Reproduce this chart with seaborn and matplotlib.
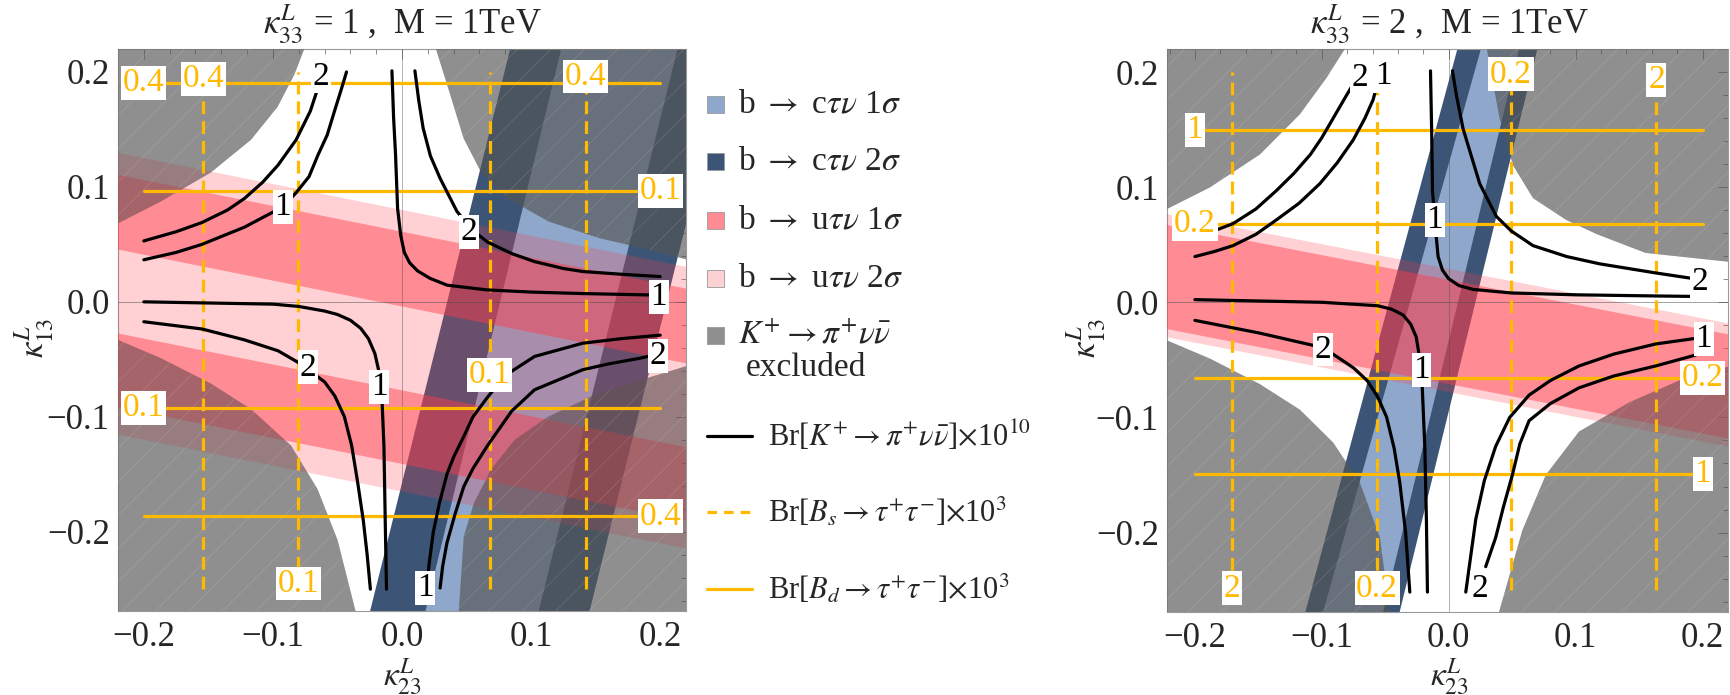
import matplotlib
matplotlib.use('Agg')
import matplotlib.pyplot as plt
import seaborn as sns
from matplotlib.patches import Polygon, Rectangle
from matplotlib.lines import Line2D
from matplotlib.ticker import MultipleLocator, FuncFormatter

# ---------------- values ----------------
x_lim = (-0.22, 0.22)
y_lim = (-0.269, 0.22)
grid_x = (-0.2, 0.2)      # contour domain (lines stop here)
grid_y = (-0.25, 0.2)

# panel 1 : kappa33 = 1
p1_k_ul2 = [(-0.200, 0.053), (-0.175, 0.061), (-0.155, 0.069), (-0.135, 0.080), (-0.122, 0.090),
            (-0.108, 0.104), (-0.096, 0.119), (-0.082, 0.141), (-0.071, 0.166), (-0.064, 0.190)]
p1_k_ul1 = [(-0.200, 0.0366), (-0.175, 0.043), (-0.155, 0.050), (-0.122, 0.065), (-0.0925, 0.0825),
            (-0.082, 0.095), (-0.072, 0.109), (-0.065, 0.128), (-0.058, 0.145), (-0.052, 0.167),
            (-0.047, 0.185), (-0.043, 0.200)]
p1_k_ll1 = [(-0.200, 0.000), (-0.150, -0.001), (-0.100, -0.002), (-0.080, -0.004), (-0.060, -0.008),
            (-0.050, -0.011), (-0.040, -0.016), (-0.032, -0.023), (-0.026, -0.032), (-0.021, -0.045),
            (-0.018, -0.060), (-0.0155, -0.085), (-0.014, -0.125), (-0.013, -0.190), (-0.012, -0.250)]
p1_k_ll2 = [(-0.200, -0.0173), (-0.155, -0.0236), (-0.122, -0.0331), (-0.096, -0.0426), (-0.080, -0.053),
            (-0.068, -0.063), (-0.060, -0.0696), (-0.052, -0.082), (-0.0447, -0.0997), (-0.039, -0.125),
            (-0.0344, -0.1567), (-0.030, -0.190), (-0.027, -0.220), (-0.0245, -0.250)]
p1_k_ur1 = [(-0.0078, 0.201), (-0.0065, 0.160), (-0.005, 0.128), (-0.0034, 0.081), (-0.001, 0.058),
            (0.0018, 0.043), (0.0059, 0.034), (0.012, 0.027), (0.0216, 0.0205), (0.035, 0.0145),
            (0.0658, 0.0104), (0.100, 0.0085), (0.140, 0.0072), (0.200, 0.0058)]
p1_k_ur2 = [(0.010, 0.201), (0.013, 0.175), (0.0164, 0.151), (0.022, 0.127), (0.0295, 0.1075),
            (0.0426, 0.0786), (0.055, 0.062), (0.0663, 0.052), (0.085, 0.042), (0.1027, 0.035),
            (0.125, 0.029), (0.140, 0.0264), (0.170, 0.024), (0.200, 0.022)]
p1_k_lr1 = [(0.200, -0.029), (0.170, -0.032), (0.140, -0.036), (0.1027, -0.0475), (0.080, -0.064),
            (0.0663, -0.0829), (0.055, -0.100), (0.0479, -0.117), (0.040, -0.135), (0.0348, -0.150),
            (0.029, -0.175), (0.0243, -0.200), (0.021, -0.228), (0.019, -0.250)]
p1_k_lr2 = [(0.200, -0.045), (0.1846, -0.049), (0.160, -0.054), (0.1399, -0.0591), (0.1027, -0.0765),
            (0.085, -0.095), (0.0663, -0.125), (0.055, -0.145), (0.0479, -0.1606), (0.041, -0.185),
            (0.0348, -0.2099), (0.0315, -0.230), (0.0295, -0.249)]
p1_k_labels = [('2', -0.063, 0.196), ('1', -0.0925, 0.0825), ('2', -0.073, -0.057), ('1', -0.0176, -0.0743),
               ('2', 0.052, 0.061), ('1', 0.199, 0.004), ('2', 0.198, -0.047), ('1', 0.018, -0.249)]

p1_gray_ul = [(-0.22, 0.0683), (-0.1868, 0.0873), (-0.148, 0.1126), (-0.117, 0.141), (-0.0964, 0.1696),
              (-0.0833, 0.198), (-0.0757, 0.22)]
p1_gray_ll = [(-0.22, -0.0331), (-0.1868, -0.049), (-0.148, -0.0711), (-0.117, -0.0933), (-0.086, -0.125),
              (-0.0654, -0.163), (-0.0499, -0.2073), (-0.036, -0.269)]
p1_gray_ur = [(0.0263, 0.22), (0.0374, 0.18), (0.0477, 0.1423), (0.061, 0.1133), (0.0817, 0.0901),
              (0.1136, 0.0699), (0.153, 0.0554), (0.1924, 0.0452), (0.22, 0.037)]
p1_gray_lr = [(0.22, -0.056), (0.153, -0.079), (0.1136, -0.0997), (0.0873, -0.120), (0.0689, -0.146),
              (0.0558, -0.175), (0.0479, -0.204), (0.044, -0.269)]

# pink bands: (y at left edge, y at right edge) for top and bottom
p1_u2s_top, p1_u2s_bot = (0.1295, 0.0305), (-0.1155, -0.2145)
p1_u1s_bands = [((0.1105, 0.0115), (0.0455, -0.0535)), ((-0.0275, -0.1265), (-0.0915, -0.1905))]
# blue bands: (x at bottom edge, x at top edge) for left and right side
p1_c2s_left, p1_c2s_right = (-0.0247, 0.0838), (0.1453, 0.2538)
p1_c1s_left, p1_c1s_right = (0.0182, 0.1233), (0.1059, 0.2134)

p1_bd_y = [0.1907, 0.0965, -0.0925, -0.1867]
p1_bd_txt = ['0.4', '0.1', '0.1', '0.4']
p1_bd_lab_x = [-0.2, 0.2, -0.2, 0.2]
p1_bs_x = [-0.154, -0.0804, 0.068, 0.1425]
p1_bs_txt = ['0.4', '0.1', '0.1', '0.4']
p1_bs_lab_y = [0.194, -0.245, -0.0635, 0.196]

# panel 2 : kappa33 = 2
p2_k_ul2 = [(-0.200, 0.0572), (-0.185, 0.062), (-0.170, 0.0683), (-0.152, 0.081), (-0.136, 0.0968),
            (-0.122, 0.112), (-0.109, 0.1284), (-0.100, 0.143), (-0.091, 0.160), (-0.081, 0.179),
            (-0.074, 0.192)]
p2_k_ul1 = [(-0.200, 0.0397), (-0.185, 0.044), (-0.170, 0.0492), (-0.152, 0.059), (-0.136, 0.0714),
            (-0.118, 0.086), (-0.1016, 0.103), (-0.088, 0.121), (-0.0753, 0.141), (-0.066, 0.160),
            (-0.0596, 0.176), (-0.055, 0.195)]
p2_k_ur1 = [(-0.0144, 0.201), (-0.0135, 0.150), (-0.0128, 0.0968), (-0.011, 0.0714), (-0.0097, 0.055),
            (-0.0084, 0.0397), (-0.005, 0.028), (-0.0003, 0.0207), (0.008, 0.0145), (0.0191, 0.0112),
            (0.0493, 0.0081), (0.100, 0.0065), (0.163, 0.0055), (0.200, 0.005)]
p2_k_ur2 = [(0.0029, 0.201), (0.006, 0.180), (0.0113, 0.1506), (0.0244, 0.103), (0.0375, 0.0746),
            (0.0493, 0.0619), (0.0664, 0.0492), (0.093, 0.0397), (0.1189, 0.0334), (0.163, 0.0255),
            (0.192, 0.0207)]
p2_k_ll1 = [(-0.200, 0.0023), (-0.100, 0.000), (-0.056, -0.003), (-0.045, -0.006), (-0.036, -0.011),
            (-0.030, -0.019), (-0.0257, -0.0299), (-0.0215, -0.058), (-0.0189, -0.125), (-0.0176, -0.190),
            (-0.0168, -0.2517)]
p2_k_ll2 = [(-0.200, -0.0157), (-0.1488, -0.0268), (-0.099, -0.0394), (-0.0858, -0.049), (-0.075, -0.057),
            (-0.0643, -0.068), (-0.056, -0.082), (-0.049, -0.0997), (-0.043, -0.127), (-0.0386, -0.1567),
            (-0.034, -0.200), (-0.0307, -0.2517)]
p2_k_lr1 = [(0.2037, -0.0299), (0.163, -0.0362), (0.130, -0.045), (0.1026, -0.0553), (0.080, -0.068),
            (0.0633, -0.0806), (0.048, -0.100), (0.037, -0.125), (0.028, -0.155), (0.0213, -0.1883),
            (0.0134, -0.2517)]
p2_k_lr2 = [(0.1945, -0.0458), (0.163, -0.0553), (0.130, -0.064), (0.1026, -0.0743), (0.080, -0.088),
            (0.0633, -0.1028), (0.056, -0.123), (0.0501, -0.150), (0.043, -0.178), (0.037, -0.2042),
            (0.0291, -0.2296)]
p2_k_labels = [('2', -0.070, 0.195), ('1', -0.0517, 0.1965), ('1', -0.011, 0.0714), ('2', 0.198, 0.0176),
               ('2', -0.099, -0.041), ('1', -0.0215, -0.0585), ('1', 0.201, -0.0316), ('2', 0.0244, -0.2485)]

p2_gray_ul = [(-0.222, 0.081), (-0.188, 0.0999), (-0.1488, 0.1284), (-0.1173, 0.1633), (-0.0963, 0.195),
              (-0.0819, 0.22)]
p2_gray_ll = [(-0.222, -0.0331), (-0.188, -0.049), (-0.1488, -0.0711), (-0.1173, -0.0933), (-0.0911, -0.1218),
              (-0.070, -0.1567), (-0.0543, -0.2042), (-0.0465, -0.269)]
p2_gray_ur = [(0.030, 0.22), (0.040, 0.16), (0.0506, 0.119), (0.0664, 0.0904), (0.0927, 0.0714),
              (0.117, 0.059), (0.155, 0.0429), (0.222, 0.035)]
p2_gray_lr = [(0.222, -0.0553), (0.1814, -0.068), (0.142, -0.087), (0.1026, -0.1123), (0.0764, -0.150),
              (0.058, -0.198), (0.0396, -0.269)]

p2_u2s_top, p2_u2s_bot = (0.0767, -0.0183), (-0.0303, -0.1253)
p2_u1s_bands = [((0.0672, -0.0278), (-0.0233, -0.1183))]
p2_c2s_left, p2_c2s_right = (-0.113, 0.0068), (-0.0387, 0.0698)
p2_c1s_left, p2_c1s_right = (-0.099, 0.0253), (-0.0517, 0.0554)

p2_bd_y = [0.150, 0.0678, -0.0658, -0.149]
p2_bd_txt = ['1', '0.2', '0.2', '1']
p2_bd_lab_x = [-0.2, -0.2, 0.2, 0.2]
p2_bs_x = [-0.1705, -0.0564, 0.0491, 0.1636]
p2_bs_txt = ['2', '0.2', '0.2', '2']
p2_bs_lab_y = [-0.2485, -0.2485, 0.198, 0.193]

titles = [r'$\kappa_{33}^{L}$ = 1 ,  M = 1TeV', r'$\kappa_{33}^{L}$ = 2 ,  M = 1TeV']
legend_patch_labels = [r'b $\rightarrow$ c$\tau\nu$ 1$\sigma$', r'b $\rightarrow$ c$\tau\nu$ 2$\sigma$',
                       r'b $\rightarrow$ u$\tau\nu$ 1$\sigma$', r'b $\rightarrow$ u$\tau\nu$ 2$\sigma$',
                       r'$K^{+}\rightarrow\pi^{+}\nu\bar{\nu}$']
legend_line_labels = [r'Br[$K^{+}\rightarrow\pi^{+}\nu\bar{\nu}$]$\times$10$^{10}$',
                      r'Br[$B_s\rightarrow\tau^{+}\tau^{-}$]$\times$10$^{3}$',
                      r'Br[$B_d\rightarrow\tau^{+}\tau^{-}$]$\times$10$^{3}$']

# ---------------- style ----------------
NAVY = '#3C5577'
LIGHTBLUE = '#8EA7CA'
PINK = '#FF3C4B'
GRAY = '#555555'
YELLOW = '#FFB900'

sns.set_theme(style='white')
plt.rcParams['font.family'] = ['Liberation Serif', 'DejaVu Serif']
plt.rcParams['mathtext.fontset'] = 'stix'
plt.rcParams['hatch.linewidth'] = 0.6

W, H = 1731, 695
fig = plt.figure(figsize=(W / 100, H / 100), dpi=100)


def fx(px):
    return px / W


def fy(py):
    return 1 - py / H


def tick_fmt(v, _):
    s = f'{v:.1f}'
    if s == '-0.0':
        s = '0.0'
    return s.replace('-', '\u2212')


def gray_region(ax, pts, corner):
    # the excluded area is shaded in two translucent layers: one under the
    # pink bands and one over them, so the bands show through muted
    poly = pts + [corner]
    ax.add_patch(Polygon(poly, closed=True, facecolor=GRAY, alpha=0.4, edgecolor='none', zorder=2))
    ax.add_patch(Polygon(poly, closed=True, facecolor=GRAY, alpha=0.43, edgecolor='none', zorder=3.5))
    ax.add_patch(Polygon(poly, closed=True, facecolor='none', edgecolor=(1, 1, 1, 0.13),
                         lw=0, hatch='/', zorder=3.6))


def draw_panel(ax, kaon, k_labels, grays, u2s, u1s, c2s, c1s,
               bd_y, bd_txt, bd_lab_x, bs_x, bs_txt, bs_lab_y, xlim):
    x0, x1 = xlim
    y0, y1 = y_lim
    # b -> c tau nu bands
    for (left, right), col in zip([c2s, c1s], [NAVY, LIGHTBLUE]):
        poly = [(left[0], y0), (right[0], y0), (right[1], y1), (left[1], y1)]
        ax.add_patch(Polygon(poly, closed=True, facecolor=col, edgecolor='none', zorder=1))
    # K -> pi nu nu excluded
    ul, ll, ur, lr = grays
    gray_region(ax, ul, (x0, y1))
    gray_region(ax, ll, (x0, y0))
    gray_region(ax, ur, (x1, y1))
    gray_region(ax, lr, (x1, y0))
    # b -> u tau nu bands
    top, bot = u2s
    ax.add_patch(Polygon([(x0, top[0]), (x1, top[1]), (x1, bot[1]), (x0, bot[0])],
                         facecolor=PINK, alpha=0.236, edgecolor='none', zorder=3))
    for top, bot in u1s:
        ax.add_patch(Polygon([(x0, top[0]), (x1, top[1]), (x1, bot[1]), (x0, bot[0])],
                             facecolor=PINK, alpha=0.46, edgecolor='none', zorder=3.1))

    ax.axhline(0, color='0.3', lw=0.6, alpha=0.6, zorder=4)
    ax.axvline(0, color='0.3', lw=0.6, alpha=0.5, zorder=4)

    lab_kw = dict(ha='center', va='center', fontsize=24,
                  bbox=dict(boxstyle='square,pad=0.05', fc='white', ec='none'), zorder=8)
    # Bd -> tau tau (solid) and Bs -> tau tau (dashed)
    for y, t, lx in zip(bd_y, bd_txt, bd_lab_x):
        ax.plot(grid_x, [y, y], color=YELLOW, lw=2.3, zorder=5)
        ax.text(lx, y, t, color=YELLOW, **lab_kw)
    for x, t, ly in zip(bs_x, bs_txt, bs_lab_y):
        ax.plot([x, x], grid_y, color=YELLOW, lw=2.3, dashes=(4, 2.2), zorder=5)
        ax.text(x, ly, t, color=YELLOW, **lab_kw)
    # K -> pi nu nu contours
    for pts in kaon:
        xs = [p[0] for p in pts]
        ys = [p[1] for p in pts]
        sns.lineplot(x=xs, y=ys, sort=False, estimator=None, color='black', linewidth=2.3,
                     ax=ax, zorder=6)
    for t, x, y in k_labels:
        ax.text(x, y, t, color='black', **lab_kw)

    ax.set_xlim(xlim)
    ax.set_ylim(y_lim)
    ax.set_xlabel('')
    ax.set_ylabel('')
    ax.xaxis.set_major_locator(MultipleLocator(0.1))
    ax.yaxis.set_major_locator(MultipleLocator(0.1))
    ax.xaxis.set_minor_locator(MultipleLocator(0.02))
    ax.yaxis.set_minor_locator(MultipleLocator(0.02))
    ax.xaxis.set_major_formatter(FuncFormatter(tick_fmt))
    ax.yaxis.set_major_formatter(FuncFormatter(tick_fmt))
    ax.tick_params(which='both', direction='in', top=True, right=True, color='0.55', width=0.7)
    ax.tick_params(which='major', length=7, labelsize=25, pad=7)
    ax.tick_params(which='minor', length=3.5)
    ax.tick_params(axis='y', which='major', pad=6)
    for sp in ax.spines.values():
        sp.set_color('0.6')
        sp.set_linewidth(0.8)


ax1 = fig.add_axes([fx(118), fy(611), (686 - 118) / W, (611 - 49) / H])
ax2 = fig.add_axes([fx(1167), fy(612), (1728 - 1167) / W, (612 - 49) / H])

draw_panel(ax1, [p1_k_ul2, p1_k_ul1, p1_k_ll1, p1_k_ll2, p1_k_ur1, p1_k_ur2, p1_k_lr1, p1_k_lr2],
           p1_k_labels, (p1_gray_ul, p1_gray_ll, p1_gray_ur, p1_gray_lr),
           (p1_u2s_top, p1_u2s_bot), p1_u1s_bands,
           (p1_c2s_left, p1_c2s_right), (p1_c1s_left, p1_c1s_right),
           p1_bd_y, p1_bd_txt, p1_bd_lab_x, p1_bs_x, p1_bs_txt, p1_bs_lab_y, x_lim)
draw_panel(ax2, [p2_k_ul2, p2_k_ul1, p2_k_ll1, p2_k_ll2, p2_k_ur1, p2_k_ur2, p2_k_lr1, p2_k_lr2],
           p2_k_labels, (p2_gray_ul, p2_gray_ll, p2_gray_ur, p2_gray_lr),
           (p2_u2s_top, p2_u2s_bot), p2_u1s_bands,
           (p2_c2s_left, p2_c2s_right), (p2_c1s_left, p2_c1s_right),
           p2_bd_y, p2_bd_txt, p2_bd_lab_x, p2_bs_x, p2_bs_txt, p2_bs_lab_y, (-0.222, 0.22))

# titles and axis labels
fig.text(fx(402), fy(24), titles[0], ha='center', va='center', fontsize=25)
fig.text(fx(1449), fy(24), titles[1], ha='center', va='center', fontsize=25)
for cx in (402, 1449):
    fig.text(fx(cx), fy(677), r'$\kappa_{23}^{L}$', ha='center', va='center', fontsize=24)
for cx in (34, 1086):
    fig.text(fx(cx), fy(338), r'$\kappa_{13}^{L}$', ha='center', va='center', fontsize=25, rotation=90)

# legend (placed by hand, between the panels)
patch_cols = [LIGHTBLUE, NAVY, '#FF8C94', '#FBD1D4', '#8F8F8F']
for lab, col, py in zip(legend_patch_labels, patch_cols, [104, 161, 220, 278, 335]):
    fig.add_artist(Rectangle((fx(707), fy(py + 9)), 17 / W, 17 / H, transform=fig.transFigure,
                             facecolor=col, edgecolor='0.6', lw=0.6))
    fig.text(fx(738), fy(py), lab, ha='left', va='center', fontsize=24)
fig.text(fx(746), fy(368), 'excluded', ha='left', va='center', fontsize=24)
for lab, ls, py in zip(legend_line_labels, ['-', '--', '-'], [436, 512, 589]):
    col = 'black' if py == 436 else YELLOW
    ln = Line2D([fx(707), fx(752)], [fy(py), fy(py)], transform=fig.transFigure,
                color=col, lw=2.3)
    if ls == '--':
        ln.set_dashes((3, 2.2))
    fig.add_artist(ln)
    fig.text(fx(768), fy(py), lab, ha='left', va='center', fontsize=22)

fig.savefig('out.png', dpi=100)
